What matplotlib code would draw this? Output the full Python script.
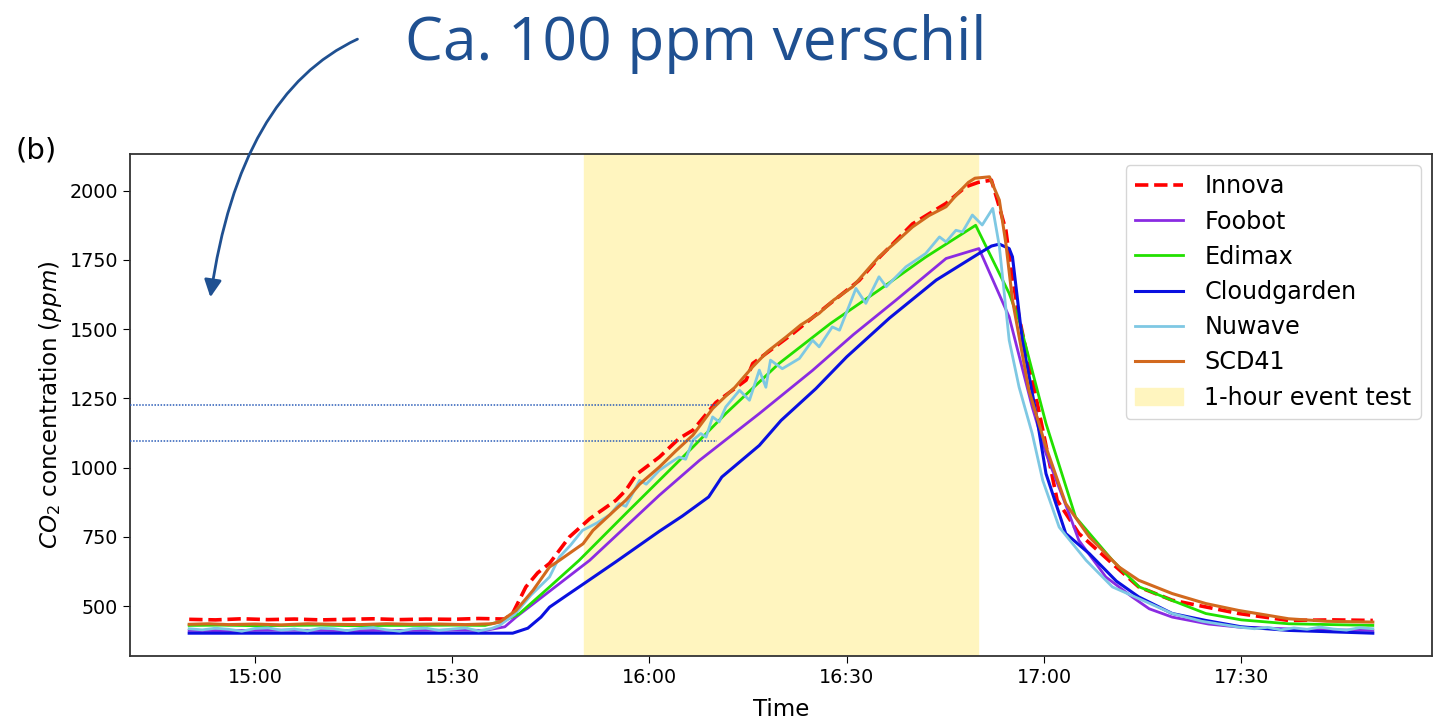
import matplotlib
matplotlib.use("Agg")
import matplotlib.pyplot as plt
import matplotlib.dates as mdates
import pandas as pd

# --- Data: (minutes after 14:50, CO2 ppm) ---
innova = [
    (0, 452), (4, 450), (8, 454), (12, 451), (16, 453), (20, 450), (24, 452),
    (28, 454), (32, 451), (36, 453), (40, 452), (44, 455), (48, 453),
    (49.2, 474), (51.2, 569), (53, 620), (54.8, 654), (57.8, 749), (60.9, 815),
    (63, 850), (64.9, 882), (66.4, 918), (68, 975), (71.5, 1038), (74.5, 1105),
    (76.6, 1135), (80.1, 1235), (84.7, 1316), (85.7, 1376), (91.8, 1484),
    (96.8, 1580), (101.9, 1676), (105, 1760), (110, 1880), (115.1, 1954),
    (118.1, 2014), (120, 2030), (122, 2038), (123.2, 1941), (124.2, 1857),
    (125, 1713), (126.2, 1544), (129.3, 1195), (132, 882), (135.3, 762),
    (140.4, 653), (144.4, 569), (149.5, 521), (159.6, 473), (167.2, 448),
    (174, 450), (180, 448),
]
foobot = [
    (0, 412), (5, 411), (10, 412), (15, 413), (20, 412), (25, 411), (30, 412),
    (35, 412), (40, 413), (45, 412), (48, 425), (49.7, 460), (60.9, 665),
    (71.5, 900), (77.6, 1026), (86.7, 1195), (94.8, 1351), (101, 1480),
    (107.5, 1605), (115.1, 1755), (120.1, 1791), (124.7, 1544), (128.2, 1219),
    (130.3, 1051), (133.8, 834), (135.3, 737), (139.4, 605), (143.4, 533),
    (146, 490), (149.5, 460), (155, 435), (159.6, 424), (170, 415), (180, 412),
]
edimax = [
    (0, 430), (5, 431), (10, 429), (15, 430), (20, 431), (25, 429), (30, 430),
    (35, 430), (40, 431), (45, 430), (48, 448), (50.2, 472), (54.8, 569),
    (59.3, 665), (66.4, 834), (71.5, 954), (76.6, 1074), (81.6, 1195),
    (89.7, 1376), (97.5, 1520), (104.9, 1641), (112, 1760), (119.6, 1875),
    (124.7, 1629), (126.2, 1532), (130.3, 1159), (134.8, 821), (140.4, 665),
    (144.4, 570), (149.5, 520), (154.6, 473), (160, 450), (167.2, 436), (180, 430),
]
cloudgarden = [
    (0, 402), (10, 402), (20, 402), (30, 402), (40, 402), (49.2, 402),
    (51.5, 420), (53.5, 460), (54.8, 496), (57.5, 540), (60.1, 582), (64.9, 660),
    (71.5, 770), (75, 825), (79, 894), (81, 966), (86.7, 1080), (90, 1170),
    (95.3, 1285), (100, 1400), (106.5, 1540), (113.6, 1677), (120.1, 1773),
    (122, 1800), (123.2, 1807), (124.7, 1791), (125.2, 1761), (126.7, 1460),
    (128.8, 1195), (130.3, 978), (133.3, 762), (136.9, 689), (141, 590),
    (144.4, 533), (149.5, 473), (154.6, 448), (160, 425), (167.2, 412), (180, 402),
]
nuwave = [
    (0, 418), (2, 414), (4, 420), (6, 416), (8, 409), (10, 419), (12, 421),
    (14, 413), (16, 417), (18, 410), (20, 420), (22, 418), (24, 411), (26, 419),
    (28, 422), (30, 414), (32, 409), (34, 418), (36, 420), (38, 412), (40, 417),
    (42, 421), (44, 410), (46, 419), (47.2, 430), (49.5, 470), (52, 540),
    (54.8, 605), (56.3, 677), (58, 720), (59.8, 773), (62, 800), (64, 830),
    (65.4, 870), (66.4, 860), (68.5, 954), (69.5, 940), (71.5, 990),
    (73, 1015), (74.5, 1038), (75.5, 1030), (76.6, 1099), (77.8, 1123),
    (78.6, 1110), (79.6, 1183), (80.6, 1165), (81.6, 1219), (83.7, 1279),
    (85.2, 1243), (86.7, 1352), (87.7, 1290), (88.4, 1388), (90.2, 1357),
    (92.8, 1394), (94.8, 1460), (95.8, 1436), (97.8, 1508), (98.9, 1496),
    (101.4, 1647), (102.9, 1593), (104.9, 1689), (106, 1653), (109, 1725),
    (112, 1773), (114.1, 1833), (115.1, 1815), (116.6, 1857), (117.6, 1851),
    (119.1, 1912), (120.6, 1876), (122.2, 1936), (123.2, 1800), (124.7, 1460),
    (126.2, 1291), (128.2, 1123), (129.8, 954), (132.3, 785), (136.4, 665),
    (140.4, 569), (144.4, 527), (149.5, 473), (154, 445), (159.6, 424),
    (162, 418), (164, 423), (166, 414), (168, 421), (170, 416), (172, 424),
    (174, 417), (176, 413), (178, 422), (180, 418),
]
scd41 = [
    (0, 434), (3, 436), (6, 433), (10, 435), (14, 432), (18, 436), (22, 434),
    (26, 433), (30, 436), (34, 434), (38, 435), (42, 433), (46, 436),
    (47.2, 442), (49.7, 484), (52.3, 557), (54.8, 641), (56.3, 665), (59.9, 725),
    (61.4, 773), (64.9, 850), (66.4, 882), (68.5, 940), (71.5, 1002),
    (74, 1060), (76.6, 1117), (79.6, 1213), (83, 1290), (85.7, 1364), (88, 1420),
    (90.8, 1472), (93, 1515), (95.8, 1557), (98, 1605), (100.9, 1653),
    (103, 1710), (104.9, 1761), (107.5, 1815), (110, 1869), (112.5, 1910),
    (115.1, 1942), (117.1, 1996), (118.5, 2030), (119.5, 2045), (121.7, 2050),
    (123.2, 1966), (124.2, 1809), (125.2, 1605), (127.7, 1279), (130.3, 1074),
    (133.3, 870), (136.9, 749), (141.4, 641), (144.4, 593), (149.5, 545),
    (154.6, 509), (159.6, 484), (167.2, 454), (173, 445), (180, 442),
]

start = pd.Timestamp("2022-01-01 14:50")
event_start = "2022-01-01 15:50"
event_end = "2022-01-01 16:50"
ref_levels = [1227, 1096]  # dotted guide lines
ref_end = "2022-01-01 16:10:20"


def to_series(pairs):
    mins, vals = zip(*pairs)
    return start + pd.to_timedelta(list(mins), unit="min"), list(vals)


# --- Figure ---
fig = plt.figure(figsize=(14.33, 7.2), dpi=100)
ax = fig.add_axes([130 / 1433, 1 - 656 / 720, 1302 / 1433, 502 / 720])

styles = [
    ("Innova", innova, dict(color="red", linestyle="--", linewidth=2.6)),
    ("Foobot", foobot, dict(color="#8A2BE2", linewidth=2)),
    ("Edimax", edimax, dict(color="#22E000", linewidth=2)),
    ("Cloudgarden", cloudgarden, dict(color="#0A10E0", linewidth=2.2)),
    ("Nuwave", nuwave, dict(color="#7EC8E3", linewidth=2)),
    ("SCD41", scd41, dict(color="#D2691E", linewidth=2.2)),
]
for name, pairs, kw in styles:
    t, v = to_series(pairs)
    ax.plot(t, v, label=name, **kw)

ax.axvspan(pd.Timestamp(event_start), pd.Timestamp(event_end),
           color="#FFF5BF", label="1-hour event test", zorder=0)

x0, x1 = ax.get_xlim()
ax.hlines(ref_levels, mdates.num2date(x0), pd.Timestamp(ref_end),
          colors="#2A5CB8", linestyles=(0, (1, 1)), linewidth=1.1, zorder=3)
ax.set_xlim(x0, x1)

ax.xaxis.set_major_locator(mdates.MinuteLocator(byminute=[0, 30]))
ax.xaxis.set_major_formatter(mdates.DateFormatter("%H:%M"))
ax.tick_params(labelsize=13.8, length=5)
for s in ax.spines.values():
    s.set_linewidth(1.3)
    s.set_color("#333333")

ax.set_xlabel("Time", fontsize=16.6, labelpad=8)
ax.set_ylabel(r"$CO_2$ concentration ($ppm$)", fontsize=16.6)
ax.legend(loc="upper right", fontsize=17.2, labelspacing=0.47,
          handlelength=2.0, handletextpad=0.9, borderaxespad=0.45)

# --- Slide annotations ---
blue = "#1F5091"
fig.text(405 / 1433, 1 - 60 / 720, "Ca. 100 ppm verschil", fontsize=43.5,
         family=["Open Sans", "DejaVu Sans"], color=blue, va="baseline")
fig.text(15 / 1433, 1 - 158 / 720, "(b)", fontsize=21, va="baseline")
ax.annotate("", xy=(210, 720 - 300), xytext=(360, 720 - 38),
            xycoords="figure pixels", textcoords="figure pixels",
            annotation_clip=False,
            arrowprops=dict(arrowstyle="-|>", color=blue, lw=2,
                            mutation_scale=26,
                            connectionstyle="angle3,angleA=24,angleB=82"))

fig.savefig("out.png", dpi=100)
